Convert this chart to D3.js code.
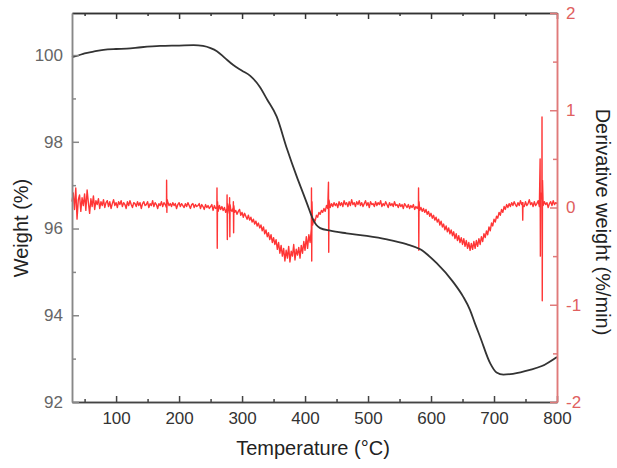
<!DOCTYPE html>
<html>
<head>
<meta charset="utf-8">
<script src="https://cdn.jsdelivr.net/npm/d3@7"></script>
<style>
    body { margin: 0; background: #fff; }
    text { font-family: "Liberation Sans", Arial, sans-serif; }
</style>
</head>
<body>
<svg id="chart" width="617" height="468"></svg>
<script>
// weight curve (left axis)
let weightTemps = [30, 40, 50, 64, 80, 100, 117, 140, 170, 200, 223, 238, 250, 260, 273, 286, 300, 313, 328, 340,
    355, 371, 387, 397, 403, 413, 418, 424, 440, 466, 498, 530, 561, 583, 609, 635, 651, 662, 670, 678,
    694, 704, 715, 730, 757, 776, 800];
let weightValues = [99.95, 99.99, 100.04, 100.08, 100.12, 100.14, 100.15, 100.18, 100.21, 100.22, 100.23, 100.21, 100.16, 100.09, 99.93, 99.77, 99.64, 99.52, 99.27, 98.97,
    98.58, 97.85, 97.19, 96.81, 96.58, 96.20, 96.08, 96.01, 95.95, 95.89, 95.83, 95.75, 95.64, 95.52, 95.20, 94.77, 94.43, 94.12, 93.80, 93.50,
    92.89, 92.68, 92.63, 92.65, 92.74, 92.83, 93.04];

// derivative curve (right axis), read every 2 °C from 30 °C, one row = 20 °C
let derivStart = 30, derivStep = 2;
let derivValues = [
    0.06, 0.15, -0.02, 0.20, -0.12, 0.08, 0.13, -0.04, 0.10, 0.02,
    0.14, -0.03, 0.18, 0.05, -0.06, 0.09, 0.01, 0.12, -0.02, 0.07,
    0.03, 0.09, -0.01, 0.06, 0.02, 0.08, 0.00, 0.05, 0.07, 0.01,
    0.06, -0.01, 0.04, 0.08, 0.02, 0.05, 0.00, 0.06, 0.03, 0.07,
    0.01, 0.05, 0.03, -0.01, 0.06, 0.02, 0.07, 0.03, 0.00, 0.05,
    0.04, 0.01, 0.06, 0.02, 0.05, -0.01, 0.04, 0.06, 0.02, 0.03,
    0.06, 0.00, 0.04, 0.02, 0.07, 0.01, 0.05, 0.03, -0.01, 0.04,
    0.02, 0.06, 0.01, 0.05, 0.03, 0.00, 0.06, 0.02, 0.04, 0.01,
    0.05, 0.02, 0.04, -0.01, 0.03, 0.05, 0.01, 0.04, 0.02, 0.00,
    0.04, 0.01, 0.05, 0.02, -0.01, 0.03, 0.04, 0.00, 0.03, 0.01,
    0.02, 0.04, -0.01, 0.03, 0.01, -0.02, 0.03, 0.00, 0.02, -0.01,
    0.01, 0.03, -0.03, 0.02, -0.01, 0.00, -0.04, 0.02, -0.02, 0.01,
    -0.03, 0.00, -0.05, -0.01, 0.01, -0.06, -0.02, -0.04, 0.00, -0.05,
    -0.03, -0.07, -0.04, -0.02, -0.08, -0.05, -0.10, -0.06, -0.09, -0.12,
    -0.08, -0.13, -0.10, -0.15, -0.12, -0.17, -0.14, -0.19, -0.16, -0.21,
    -0.18, -0.24, -0.20, -0.27, -0.23, -0.30, -0.26, -0.33, -0.28, -0.36,
    -0.31, -0.38, -0.33, -0.43, -0.36, -0.47, -0.39, -0.50, -0.42, -0.55,
    -0.44, -0.52, -0.40, -0.56, -0.45, -0.50, -0.38, -0.54, -0.43, -0.49,
    -0.41, -0.52, -0.39, -0.47, -0.35, -0.44, -0.30, -0.42, -0.28, -0.36,
    -0.22, -0.18, -0.12, -0.14, -0.08, -0.10, -0.05, -0.07, -0.03, -0.05,
    -0.01, -0.04, 0.02, -0.01, 0.03, 0.00, 0.04, 0.01, 0.05, 0.02,
    0.04, 0.00, 0.06, 0.02, 0.05, 0.01, 0.07, 0.03, 0.05, 0.01,
    0.06, 0.02, 0.08, 0.03, 0.05, 0.01, 0.06, 0.03, 0.07, 0.02,
    0.05, 0.01, 0.04, 0.07, 0.02, 0.05, 0.00, 0.06, 0.03, 0.04,
    0.01, 0.06, 0.02, 0.05, 0.03, 0.07, 0.01, 0.04, 0.02, 0.06,
    0.03, 0.00, 0.05, 0.02, 0.04, 0.01, 0.06, 0.02, 0.03, 0.00,
    0.04, 0.01, 0.03, -0.01, 0.04, 0.02, 0.00, 0.03, -0.01, 0.02,
    0.00, 0.03, -0.02, 0.01, -0.01, 0.02, -0.03, 0.00, -0.04, -0.01,
    -0.05, -0.02, -0.07, -0.04, -0.09, -0.06, -0.11, -0.08, -0.13, -0.10,
    -0.15, -0.12, -0.18, -0.14, -0.20, -0.17, -0.23, -0.19, -0.25, -0.21,
    -0.27, -0.23, -0.29, -0.25, -0.32, -0.27, -0.34, -0.29, -0.36, -0.31,
    -0.38, -0.32, -0.40, -0.34, -0.42, -0.36, -0.44, -0.37, -0.43, -0.35,
    -0.42, -0.34, -0.40, -0.32, -0.38, -0.30, -0.35, -0.27, -0.31, -0.24,
    -0.28, -0.20, -0.24, -0.16, -0.19, -0.12, -0.15, -0.09, -0.11, -0.05,
    -0.08, -0.02, -0.05, 0.01, -0.02, 0.03, 0.00, 0.04, 0.01, 0.05,
    0.02, 0.06, 0.03, 0.01, 0.05, 0.02, 0.07, 0.03, 0.05, 0.01,
    0.06, 0.02, 0.04, 0.08, 0.03, 0.05, 0.01, 0.06, 0.02, 0.04,
    0.07, 0.01, 0.05, 0.09, 0.02, 0.06, 0.03, 0.05, 0.00, 0.04,
    0.06, 0.02, 0.07, 0.03, 0.05, 0.04
];
// narrow spikes in the derivative signal
let spikeTemps = [180, 260, 276, 280, 286, 410, 437, 580, 745, 773, 776];
let spikeHigh = [0.28, 0.20, 0.13, 0.10, 0.06, 0.20, 0.26, 0.20, 0.05, 0.50, 0.93];
let spikeLow = [-0.05, -0.42, -0.33, -0.30, -0.26, -0.55, -0.46, -0.44, -0.13, -0.50, -0.96];

let xTicks = [100, 200, 300, 400, 500, 600, 700, 800];
let weightTicks = [92, 94, 96, 98, 100];
let derivTicks = [-2, -1, 0, 1, 2];

class TgaChart {

    update() {
        let svg = d3.select("#chart");
        this.left = 72; this.right = 557; this.top = 13; this.bottom = 402;

        this.x = d3.scaleLinear().domain([30, 800]).range([this.left, this.right]);
        this.yW = d3.scaleLinear().domain([92, 100.97]).range([this.bottom, this.top]);
        this.yD = d3.scaleLinear().domain([-2, 2]).range([this.bottom, this.top]);

        this.drawCurves(svg);
        this.drawAxes(svg);
    }

    derivPoints() {
        let pts = derivValues.map((v, i) => [derivStart + i * derivStep, v]);
        spikeTemps.forEach((t, i) => {
            pts.push([t + 0.2, spikeHigh[i]]);
            pts.push([t + 0.6, spikeLow[i]]);
            pts.push([t + 1.0, spikeHigh[i] * 0.3]);
        });
        pts.sort((a, b) => a[0] - b[0]);
        return pts;
    }

    drawCurves(svg) {
        let dLine = d3.line()
            .x(d => this.x(d[0]))
            .y(d => this.yD(d[1]));
        svg.append("path")
            .attr("d", dLine(this.derivPoints()))
            .attr("fill", "none")
            .attr("stroke", "#ff3535")
            .attr("stroke-width", 1.4)
            .attr("stroke-linejoin", "round");

        let wLine = d3.line()
            .x((d, i) => this.x(weightTemps[i]))
            .y(d => this.yW(d))
            .curve(d3.curveMonotoneX);
        svg.append("path")
            .attr("d", wLine(weightValues))
            .attr("fill", "none")
            .attr("stroke", "#333")
            .attr("stroke-width", 1.8);
    }

    styleAxis(g, color, textColor) {
        g.selectAll("path, line").attr("stroke", color).attr("stroke-width", 1.5);
        g.selectAll("text")
            .attr("fill", textColor)
            .style("font-size", "17px")
            .style("font-family", "'Liberation Sans', Arial, sans-serif");
    }

    drawAxes(svg) {
        let minorX = d3.range(50, 800, 100);
        let bottom = svg.append("g").attr("transform", `translate(0,${this.bottom})`);
        bottom.call(d3.axisBottom(this.x).tickValues(xTicks).tickSize(-6).tickSizeOuter(0).tickPadding(10));
        bottom.append("g").call(d3.axisBottom(this.x).tickValues(minorX).tickSize(-3).tickSizeOuter(0).tickFormat(""));
        this.styleAxis(bottom, "#444", "#333");

        let top = svg.append("g").attr("transform", `translate(0,${this.top})`);
        top.call(d3.axisTop(this.x).tickValues(xTicks).tickSize(-6).tickSizeOuter(0).tickFormat(""));
        top.append("g").call(d3.axisTop(this.x).tickValues(minorX).tickSize(-3).tickSizeOuter(0).tickFormat(""));
        this.styleAxis(top, "#333", "#333");

        let leftAx = svg.append("g").attr("transform", `translate(${this.left},0)`);
        leftAx.call(d3.axisLeft(this.yW).tickValues(weightTicks).tickSize(-7).tickSizeOuter(0).tickPadding(9));
        leftAx.append("g").call(d3.axisLeft(this.yW).tickValues([93, 95, 97, 99]).tickSize(-4).tickSizeOuter(0).tickFormat(""));
        this.styleAxis(leftAx, "#888", "#666");

        let rightAx = svg.append("g").attr("transform", `translate(${this.right},0)`);
        rightAx.call(d3.axisRight(this.yD).tickValues(derivTicks).tickSize(-7).tickSizeOuter(0).tickPadding(9)
            .tickFormat(d => d < 0 ? "-" + Math.abs(d) : String(d)));
        rightAx.append("g").call(d3.axisRight(this.yD).tickValues([-1.5, -0.5, 0.5, 1.5]).tickSize(-4).tickSizeOuter(0).tickFormat(""));
        this.styleAxis(rightAx, "#e07a7a", "#e06060");

        // axis titles
        svg.append("text")
            .attr("transform", "translate(28,228) rotate(-90)")
            .attr("text-anchor", "middle")
            .attr("fill", "#222")
            .style("font-size", "20px")
            .text("Weight (%)");

        svg.append("text")
            .attr("x", 313).attr("y", 455)
            .attr("text-anchor", "middle")
            .attr("fill", "#222")
            .style("font-size", "20px")
            .text("Temperature (°C)");

        svg.append("text")
            .attr("transform", "translate(596,222) rotate(90)")
            .attr("text-anchor", "middle")
            .attr("fill", "#222")
            .style("font-size", "20px")
            .text("Derivative weight (%/min)");
    }
}

let chart = new TgaChart();
chart.update();
</script>
</body>
</html>
